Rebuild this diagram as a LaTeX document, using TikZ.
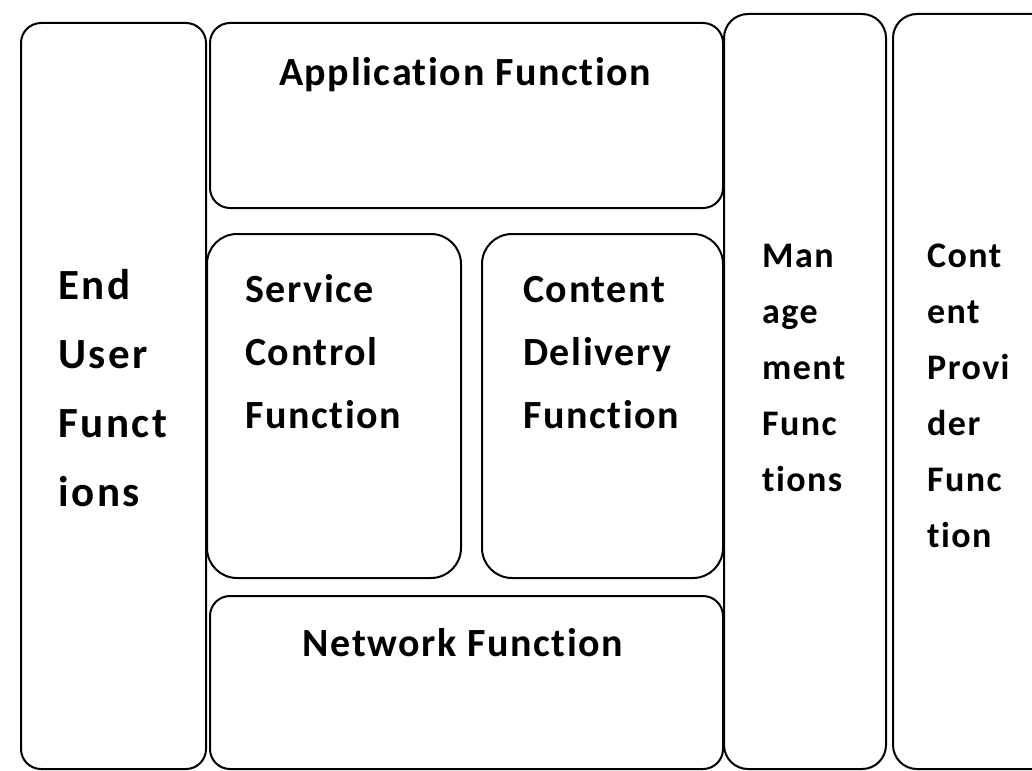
\documentclass[tikz,border=0pt]{standalone}
\usepackage{fontspec}
\setmainfont{Carlito}
\newfontfamily\lab[LetterSpace=4,Ligatures=CommonOff]{Carlito}
\newfontfamily\labw[LetterSpace=6,Ligatures=CommonOff]{Carlito}
\begin{document}
\begin{tikzpicture}[x=1pt,y=-1pt,
  box/.style={draw, line width=2pt, rounded corners=#1, anchor=north west, inner sep=0pt},
  box/.default=20pt,
  big/.style={anchor=base west, inner sep=0pt, font=\labw\bfseries\fontsize{43}{43}\selectfont},
  mid/.style={anchor=base west, inner sep=0pt, font=\lab\bfseries\fontsize{40}{40}\selectfont},
  sml/.style={anchor=base west, inner sep=0pt, font=\lab\bfseries\fontsize{36}{36}\selectfont}]
\useasboundingbox (0,0) rectangle (1032,770);
\clip (0,0) rectangle (1032,770);
\fill[white] (0,0) rectangle (1032,770);
% boxes
\node[box, minimum width=185pt, minimum height=746pt] (eu) at (20,22) {};
\node[box, minimum width=513pt, minimum height=185pt] (app) at (209,22) {};
\node[box=30pt, minimum width=254pt, minimum height=344pt] (sc) at (206,233) {};
\node[box=30pt, minimum width=241pt, minimum height=344pt] (cd) at (481,233) {};
\node[box, minimum width=513pt, minimum height=173pt] (net) at (209,595) {};
\node[box=24pt, minimum width=162pt, minimum height=755pt] (mg) at (723,13) {};
\node[box=24pt, minimum width=170pt, minimum height=755pt] (cp) at (892,13) {};
% texts
\node[mid, anchor=base] (appt) at (465,86) {Application Function};
\node[mid, anchor=base] (nett) at (463,656) {Network Function};
\foreach \t [count=\i] in {End,User,Funct,ions}
  \node[big] (eut\i) at (58,{299+69*(\i-1)}) {\t};
\foreach \t [count=\i] in {Service,Control,Function}
  \node[mid] (sct\i) at (245,{302+63*(\i-1)}) {\t};
\foreach \t [count=\i] in {Content,Delivery,Function}
  \node[mid] (cdt\i) at (523,{302+63*(\i-1)}) {\t};
\foreach \t [count=\i] in {Man,age,ment,Func,tions}
  \node[sml] (mgt\i) at (762,{267+56*(\i-1)}) {\t};
\foreach \t [count=\i] in {Cont,ent,Provi,der,Func,tion}
  \node[sml] (cpt\i) at (927,{267+56*(\i-1)}) {\t};
\end{tikzpicture}
\end{document}
